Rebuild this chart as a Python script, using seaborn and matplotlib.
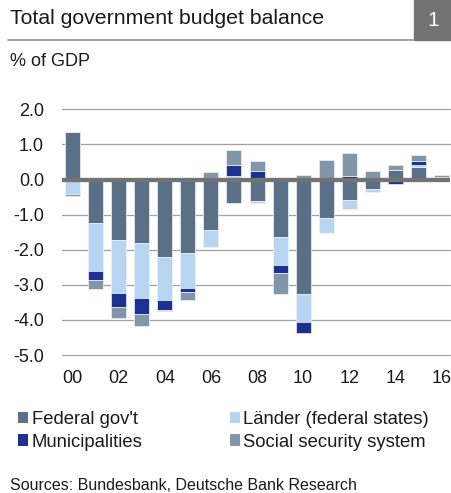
import numpy as np
import pandas as pd
import matplotlib
matplotlib.use("Agg")
import matplotlib.pyplot as plt
from matplotlib.patches import Rectangle, Patch
from matplotlib.lines import Line2D
import seaborn as sns

# General government budget balance by level of government, % of GDP
years = [str(y) for y in range(2000, 2017)]
federal = [1.34, -1.25, -1.73, -1.81, -2.21, -2.09, -1.44, -0.66, -0.61,
           -1.64, -3.27, -1.10, -0.59, -0.27, 0.27, 0.36, 0.08]
laender = [-0.41, -1.36, -1.51, -1.56, -1.23, -1.00, -0.48, 0.11, -0.07,
           -0.81, -0.80, -0.42, -0.26, -0.10, 0.00, 0.05, 0.00]
municipalities = [0.00, -0.26, -0.38, -0.47, -0.27, -0.11, 0.00, 0.30, 0.24,
                  -0.20, -0.31, 0.00, 0.11, 0.00, -0.12, 0.12, 0.00]
social_security = [-0.07, -0.25, -0.32, -0.34, -0.05, -0.22, 0.21, 0.42, 0.28,
                   -0.60, 0.14, 0.56, 0.64, 0.24, 0.13, 0.16, 0.06]

series_names = ["Federal gov't", "Länder (federal states)",
                "Municipalities", "Social security system"]
series_values = [federal, laender, municipalities, social_security]
series_colors = ["#5a7087", "#b7d4f0", "#1c3291", "#8296aa"]

tick_positions = list(range(0, 17, 2))
tick_labels = ["00", "02", "04", "06", "08", "10", "12", "14", "16"]
y_ticks = [2.0, 1.0, 0.0, -1.0, -2.0, -3.0, -4.0, -5.0]

sns.set_theme(style="white")
plt.rcParams["font.family"] = ["Liberation Sans", "DejaVu Sans"]
plt.rcParams["text.color"] = "#1a1a1a"

W, H = 452, 493
fig = plt.figure(figsize=(W / 100, H / 100), dpi=100)
ax = fig.add_axes([62 / W, 1 - 355 / H, (450 - 62) / W, (355 - 109.3) / H])

# Stack positives upward and negatives downward, separately
pos_base = np.zeros(len(years))
neg_base = np.zeros(len(years))
for name, vals, col in zip(series_names, series_values, series_colors):
    v = np.asarray(vals, dtype=float)
    bottom = np.where(v >= 0, pos_base, neg_base)
    df = pd.DataFrame({"year": years, "value": v})
    sns.barplot(data=df, x="year", y="value", bottom=bottom, color=col,
                saturation=1, width=0.65, errorbar=None, ax=ax,
                edgecolor="#eef2f7", linewidth=0.5, zorder=2)
    pos_base = pos_base + np.where(v >= 0, v, 0)
    neg_base = neg_base + np.where(v < 0, v, 0)

ax.set_ylim(-5.0, 2.0)
ax.set_xlim(-0.46, 16.37)
ax.set_yticks(y_ticks)
ax.set_yticklabels([f"{t:.1f}" for t in y_ticks])
ax.set_xticks(tick_positions)
ax.set_xticklabels(tick_labels)
ax.set_xlabel("")
ax.set_ylabel("")
for s in ax.spines.values():
    s.set_visible(False)
ax.tick_params(axis="both", length=0, labelsize=13, colors="#1a1a1a")
ax.tick_params(axis="y", pad=13)
ax.tick_params(axis="x", pad=11)

for t in y_ticks:
    if t != 0:
        ax.axhline(t, color="#a0a0a0", lw=0.9, zorder=1, clip_on=False)
ax.axhline(0, color="#737373", lw=3.1, zorder=5)

# Header: title, rule and number box
fig.text(10 / W, 1 - 19 / H, "Total government budget balance",
         fontsize=15.3, va="center", ha="left")
fig.add_artist(Line2D([8 / W, 414 / W], [1 - 39.5 / H, 1 - 39.5 / H],
                      color="#8c8c8c", lw=1.1))
fig.add_artist(Rectangle((414 / W, 1 - 40 / H), 38 / W, 40 / H,
                         color="#737373", transform=fig.transFigure))
fig.text(433 / W, 1 - 20 / H, "1", color="white", fontsize=15,
         va="center", ha="center")

fig.text(10 / W, 1 - 62 / H, "% of GDP", fontsize=13, va="center", ha="left")

handles = [Patch(facecolor=c, edgecolor="none") for c in series_colors]
order = [0, 2, 1, 3]
fig.legend([handles[i] for i in order], [series_names[i] for i in order],
           ncol=2, loc="upper left", bbox_to_anchor=(18 / W, 1 - 411 / H),
           frameon=False, fontsize=13.3, handlelength=0.55, handleheight=0.55,
           handletextpad=0.2, columnspacing=4.7, labelspacing=0.3,
           borderpad=0, borderaxespad=0)

fig.text(10 / W, 1 - 485 / H, "Sources: Bundesbank, Deutsche Bank Research",
         fontsize=11.5, va="center", ha="left")

fig.savefig("out.png", dpi=100)
